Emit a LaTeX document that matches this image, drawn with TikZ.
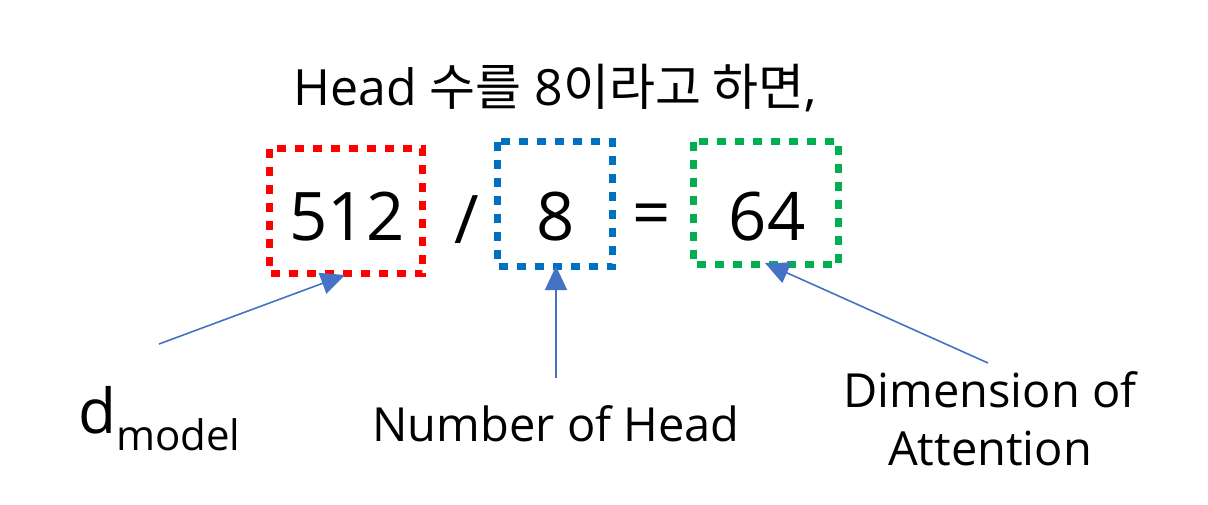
\documentclass[tikz,border=0pt]{standalone}
\usepackage{fontspec}
\setmainfont{Open Sans}
\newfontfamily\kr{Noto Sans CJK KR}
\usetikzlibrary{arrows.meta}
\definecolor{cred}{HTML}{FF0000}
\definecolor{cblue}{HTML}{0070C0}
\definecolor{cgreen}{HTML}{00B050}
\definecolor{carrow}{HTML}{4472C4}
\tikzset{
  dotbox/.style={line width=7.5pt, dash pattern=on 9pt off 9pt},
  pointer/.style={draw=carrow, line width=1.6pt, -{Triangle[length=24pt,width=22pt]}},
  big/.style={font=\fontsize{67}{70}\selectfont, inner sep=0pt},
  lbl/.style={font=\fontsize{47}{58}\selectfont, inner sep=0pt, align=center},
}
\begin{document}
\begin{tikzpicture}[x=1pt,y=-1pt]
\useasboundingbox (0,0) rectangle (1208,504);
\node[font=\fontsize{50}{60}\selectfont, inner sep=0pt] (title) at (555,88) {Head {\kr 수를} 8{\kr 이라고 하면},};
\draw[dotbox, cred] (269.5,148.5) rectangle (422.5,273.5);
\draw[dotbox, cblue] (497.5,141.5) rectangle (612.5,266.5);
\draw[dotbox, cgreen] (693.5,141.5) rectangle (838.5,264.5);
\node[big] (n512) at (347,217) {512};
\node[big] (slash) at (467,220) {/};
\node[big] (n8) at (556,217) {8};
\node[big] (eq) at (652,220) {=};
\node[big] (n64) at (767,217) {64};
\coordinate (a1) at (345,275);
\coordinate (a2) at (556,266);
\coordinate (a3) at (765,263);
\coordinate (s1) at (159,344);
\coordinate (s2) at (556,378);
\coordinate (s3) at (988,363);
\draw[pointer] (s1) -- (a1);
\draw[pointer] (s2) -- (a2);
\draw[pointer] (s3) -- (a3);
\node[anchor=base west, inner sep=0pt, font=\fontsize{62}{70}\selectfont] (dmodel) at (78,433) {d\raisebox{-0.28em}{\fontsize{42}{50}\selectfont model}};
\node[lbl] (noh) at (556,424) {Number of Head};
\node[lbl] (doa) at (990,419) {Dimension of\\Attention};
\end{tikzpicture}
\end{document}
